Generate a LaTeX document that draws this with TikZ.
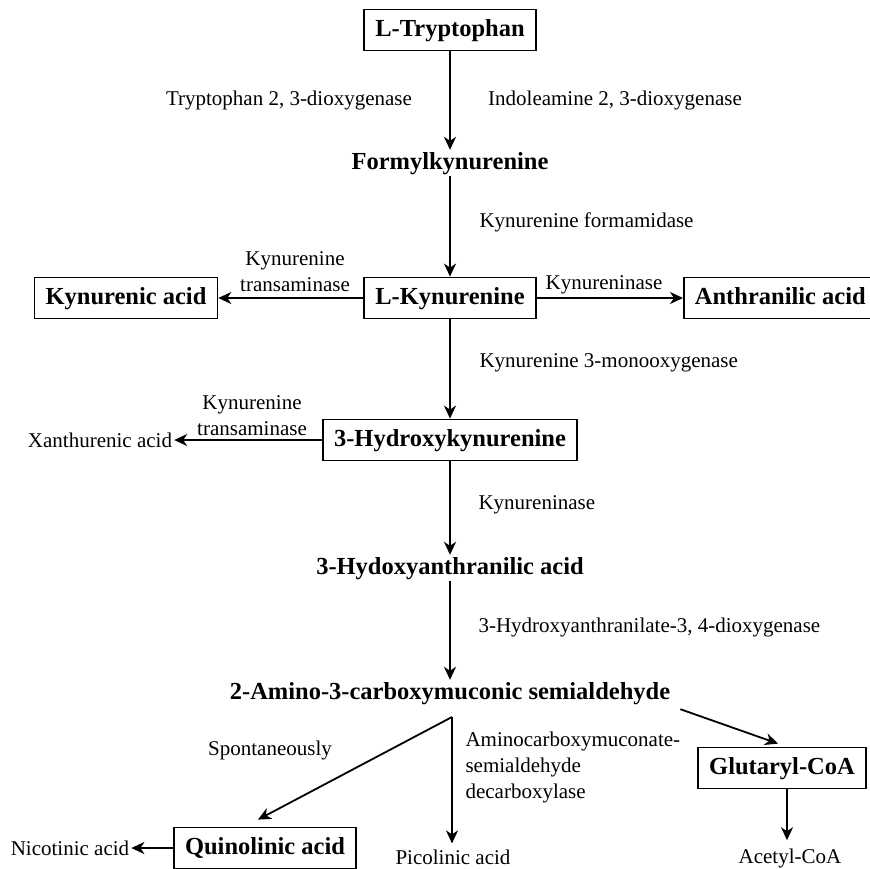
\documentclass[tikz,border=0pt]{standalone}
\usepackage{fontspec}
\setmainfont{Liberation Serif}
\usetikzlibrary{arrows.meta}

\newcommand{\enzfont}{\fontsize{21}{26}\selectfont}
\newcommand{\cmpdfont}{\fontsize{24.5}{28}\selectfont\bfseries}

\begin{document}
\begin{tikzpicture}[
        x=1pt, y=-1pt,
        cmpdbox/.style={draw, line width=1.8pt, font=\cmpdfont, inner xsep=11pt, inner ysep=0pt,
            text height=17pt, text depth=5pt, minimum height=41pt},
        cmpd/.style={font=\cmpdfont, inner sep=2pt, text height=17pt, text depth=5pt},
        prod/.style={font=\enzfont, inner sep=2pt},
        enz/.style={font=\enzfont, align=center},
        conv/.style={line width=1.8pt, -{Stealth[length=13pt, width=12pt, inset=4pt]}}
    ]
    \useasboundingbox (0,0) rectangle (870,868);

    % main pathway
    \node[cmpdbox] (trp) at (450,30) {L-Tryptophan};
    \node[cmpd] (fk) at (450,163) {Formylkynurenine};
    \node[cmpdbox] (kyn) at (450,298) {L-Kynurenine};
    \node[cmpdbox] (hk) at (450,440) {3-Hydroxykynurenine};
    \node[cmpd] (haa) at (450,568) {3-Hydoxyanthranilic acid};
    \node[cmpd] (acms) at (450,693) {2-Amino-3-carboxymuconic semialdehyde};

    % side products
    \node[cmpdbox] (kyna) at (126,298) {Kynurenic acid};
    \node[cmpdbox, anchor=west] (anth) at (683,298) {Anthranilic acid};
    \node[prod] (xa) at (100,440) {Xanthurenic acid};
    \node[cmpdbox] (qa) at (265,848) {Quinolinic acid};
    \node[prod] (na) at (70,848) {Nicotinic acid};
    \node[prod] (pa) at (453,857) {Picolinic acid};
    \node[cmpdbox] (glut) at (782,768) {Glutaryl-CoA};
    \node[prod] (acet) at (790,858) {Acetyl-CoA};

    % enzymes
    \node[enz] (tdo) at (289,100) {Tryptophan 2, 3-dioxygenase};
    \node[enz] (ido) at (615,100) {Indoleamine 2, 3-dioxygenase};
    \node[enz, anchor=west] (kfa) at (476,222) {Kynurenine formamidase};
    \node[enz] (kat1) at (295,272) {Kynurenine\\transaminase};
    \node[enz] (kynu1) at (604,285) {Kynureninase};
    \node[enz, anchor=west] (kmo) at (476,363) {Kynurenine 3-monooxygenase};
    \node[enz] (kat2) at (252,416) {Kynurenine\\transaminase};
    \node[enz, anchor=west] (kynu2) at (475,505) {Kynureninase};
    \node[enz, anchor=west] (haao) at (475,627) {3-Hydroxyanthranilate-3, 4-dioxygenase};
    \node[enz] (spont) at (270,750) {Spontaneously};
    \node[enz, align=left, anchor=west] (acmsd) at (462,767) {Aminocarboxymuconate-\\semialdehyde\\decarboxylase};

    \coordinate (split) at (452,717);

    % reactions
    \draw[conv] (trp) -- (fk);
    \draw[conv] (fk) -- (kyn);
    \draw[conv] (kyn) -- (kyna);
    \draw[conv] (kyn) -- (anth);
    \draw[conv] (kyn) -- (hk);
    \draw[conv] (hk) -- (xa);
    \draw[conv] (hk) -- (haa);
    \draw[conv] (haa.south) -- (acms.north);
    \draw[conv] (split) -- ([xshift=-7pt, yshift=7pt]qa.north);
    \draw[conv, shorten >=4pt] (split) -- (pa.north -| split);
    \draw[conv] ([xshift=8pt, yshift=-3pt]acms.south east) -- ([xshift=-4pt, yshift=3pt]glut.north);
    \draw[conv, shorten >=6pt] (glut.south -| 787,0) -- (acet.north -| 787,0);
    \draw[conv] (qa) -- (na);
\end{tikzpicture}
\end{document}
